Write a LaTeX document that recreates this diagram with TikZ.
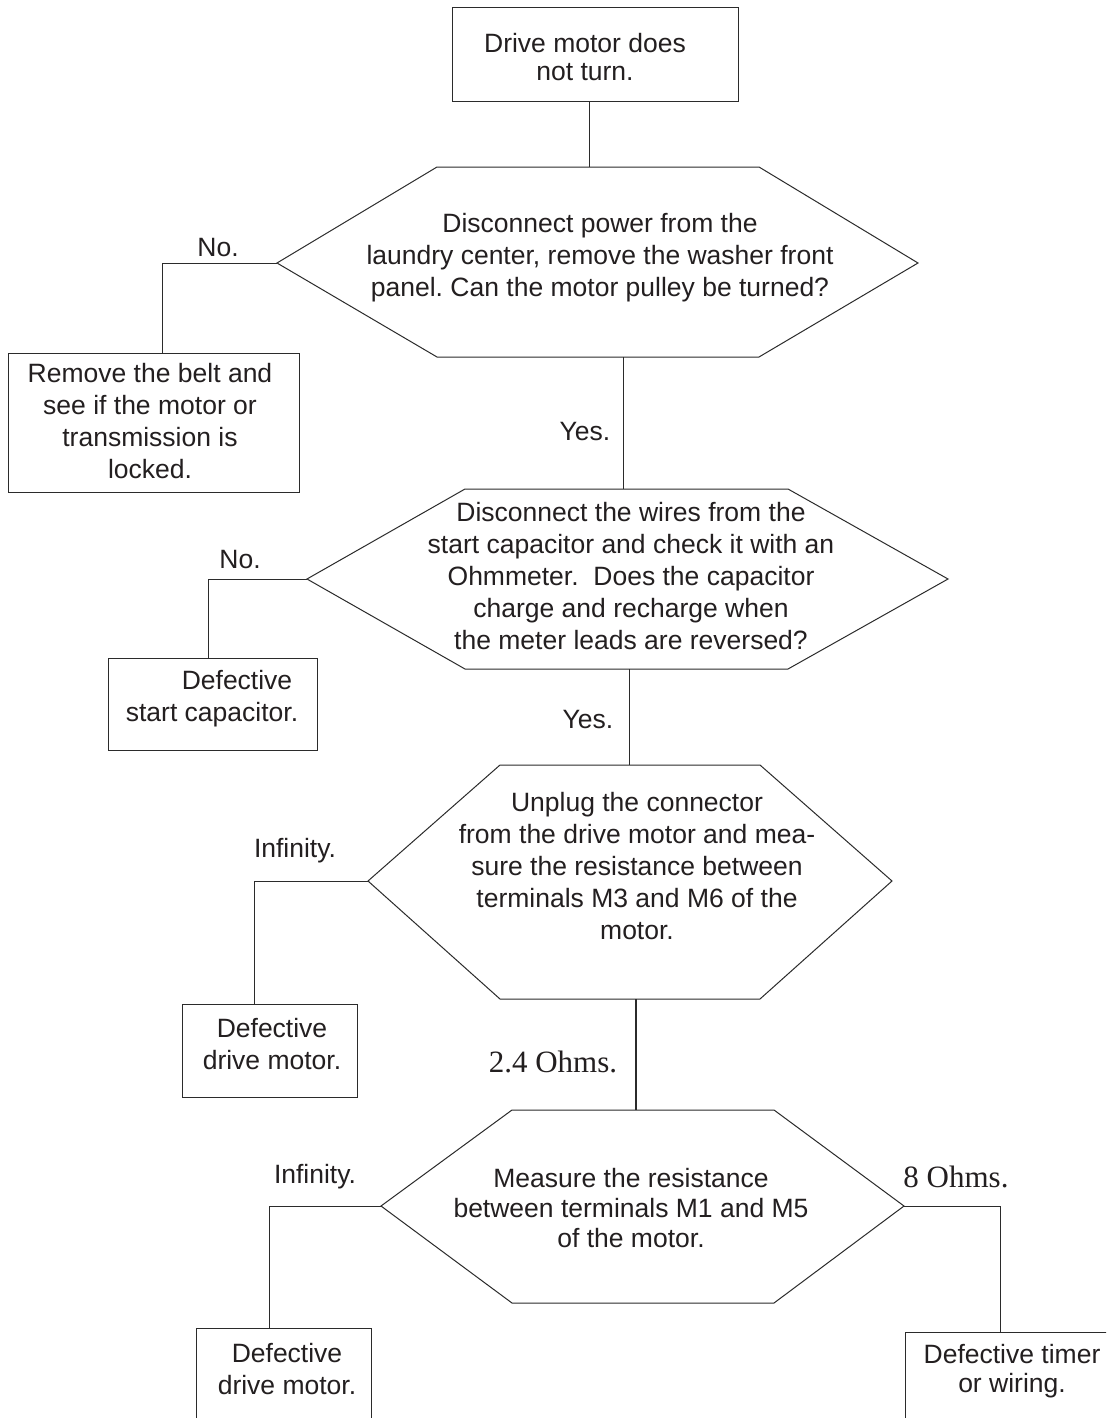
\documentclass[tikz,border=0pt]{standalone}
\usepackage{fontspec}
\setmainfont{Liberation Sans}
\newfontfamily\serifface{Liberation Serif}
\definecolor{inkline}{HTML}{2B2B2B}
\definecolor{inktext}{HTML}{231F20}
\frenchspacing
\begin{document}
\begin{tikzpicture}[x=1pt,y=-1pt,
  ln/.style={line width=1pt, draw=inkline},
  thickln/.style={line width=2.3pt, draw=inkline},
  boxn/.style={ln, rectangle, inner sep=0pt},
  txt/.style={font=\fontsize{26.5}{32}\selectfont, align=center, inner sep=0pt, text=inktext},
  lbl/.style={font=\fontsize{26.5}{32}\selectfont, inner sep=0pt, text=inktext},
  slbl/.style={font=\serifface\fontsize{31}{36}\selectfont, inner sep=0pt, text=inktext},
]
\useasboundingbox (0,0) rectangle (1106,1418);
\clip (0,0) rectangle (1106,1418);
\fill[white] (0,0) rectangle (1106,1418);

% ---------- boxes ----------
\node[boxn, draw, minimum width=286, minimum height=94] (top) at (595,55) {};
\node[txt, font=\fontsize{26.5}{28}\selectfont] (topt) at (585,57) {Drive motor does\\not turn.};

\node[boxn, draw, minimum width=291, minimum height=139] (b1) at (153.5,422.5) {};
\node[txt] (b1t) at (150,421) {Remove the belt and\\see if the motor or\\transmission is\\locked.};

\node[boxn, draw, minimum width=209, minimum height=92] (b2) at (212.5,704) {};
\node[txt] (b2t) at (212,699) {\hspace*{50pt}Defective\\start capacitor.};

\node[boxn, draw, minimum width=175, minimum height=93] (b3) at (269.5,1050.5) {};
\node[txt] (b3t) at (272,1044) {Defective\\drive motor.};

\node[boxn, draw, minimum width=175, minimum height=122] (b4) at (283.5,1389) {};
\node[txt] (b4t) at (287,1369) {Defective\\drive motor.};

\node[boxn, draw, minimum width=225, minimum height=118] (b5) at (1017.5,1391) {};
\node[txt, font=\fontsize{26.5}{28.5}\selectfont] (b5t) at (1012,1371) {Defective timer\\or wiring.};

% ---------- hexagon 1 ----------
\coordinate (h1L) at (277,263);
\coordinate (h1TL) at (437,167);
\coordinate (h1TR) at (759,167);
\coordinate (h1R) at (918,263);
\coordinate (h1BR) at (759,357);
\coordinate (h1BL) at (437,357);
\draw[ln] (h1L) -- (h1TL) -- (h1TR) -- (h1R) -- (h1BR) -- (h1BL) -- cycle;
\node[txt] (h1t) at (600,258) {Disconnect power from the\\laundry center, remove the washer front\\panel. Can the motor pulley be turned?};
\coordinate (h1T) at (589,167);
\coordinate (h1B) at (623,357);

% ---------- hexagon 2 ----------
\coordinate (h2L) at (307,579);
\coordinate (h2TL) at (465,489);
\coordinate (h2TR) at (788,489);
\coordinate (h2R) at (948,579);
\coordinate (h2BR) at (788,669);
\coordinate (h2BL) at (465,669);
\draw[ln] (h2L) -- (h2TL) -- (h2TR) -- (h2R) -- (h2BR) -- (h2BL) -- cycle;
\node[txt] (h2t) at (631,576) {Disconnect the wires from the\\start capacitor and check it with an\\Ohmmeter.\ \ Does the capacitor\\charge and recharge when\\the meter leads are reversed?};
\coordinate (h2T) at (623,489);
\coordinate (h2B) at (629,669);

% ---------- hexagon 3 ----------
\coordinate (h3L) at (368,881);
\coordinate (h3TL) at (500,765);
\coordinate (h3TR) at (760,765);
\coordinate (h3R) at (892,881);
\coordinate (h3BR) at (760,999);
\coordinate (h3BL) at (500,999);
\draw[ln] (h3L) -- (h3TL) -- (h3TR) -- (h3R) -- (h3BR) -- (h3BL) -- cycle;
\node[txt] (h3t) at (637,866) {Unplug the connector\\from the drive motor and mea-\\sure the resistance between\\terminals M3 and M6 of the\\motor.};
\coordinate (h3T) at (629,765);
\coordinate (h3B) at (636,999);

% ---------- hexagon 4 ----------
\coordinate (h4L) at (381,1206);
\coordinate (h4TL) at (512,1110);
\coordinate (h4TR) at (774,1110);
\coordinate (h4R) at (904,1206);
\coordinate (h4BR) at (774,1303);
\coordinate (h4BL) at (512,1303);
\draw[ln] (h4L) -- (h4TL) -- (h4TR) -- (h4R) -- (h4BR) -- (h4BL) -- cycle;
\node[txt, font=\fontsize{26.5}{30}\selectfont] (h4t) at (631,1208) {Measure the resistance\\between terminals M1 and M5\\of the motor.};
\coordinate (h4T) at (636,1110);

% ---------- connectors ----------
\draw[ln] (h1T |- top.south) -- (h1T);

\coordinate (k1) at (162,263);
\draw[ln] (h1L) -- (k1) -- (k1 |- b1.north);
\draw[ln] (h1B) -- (h2T);

\coordinate (k2) at (208,579);
\draw[ln] (h2L) -- (k2) -- (k2 |- b2.north);
\draw[ln] (h2B) -- (h3T);

\coordinate (k3) at (254,881);
\draw[ln] (h3L) -- (k3) -- (k3 |- b3.north);
\draw[thickln] (h3B) -- (h4T);

\coordinate (k4) at (269,1206);
\draw[ln] (h4L) -- (k4) -- (k4 |- b4.north);

\coordinate (k5) at (1000,1206);
\draw[ln] (h4R) -- (k5) -- (k5 |- b5.north);

% ---------- labels ----------
\node[lbl] (l1) at (218,248) {No.};
\node[lbl] (l2) at (585,432) {Yes.};
\node[lbl] (l3) at (240,560) {No.};
\node[lbl] (l4) at (588,720) {Yes.};
\node[lbl] (l5) at (295,851) {Infinity.};
\node[slbl] (l6) at (553,1062) {2.4 Ohms.};
\node[lbl] (l7) at (315,1177) {Infinity.};
\node[slbl] (l8) at (956,1177) {8 Ohms.};
\end{tikzpicture}
\end{document}
